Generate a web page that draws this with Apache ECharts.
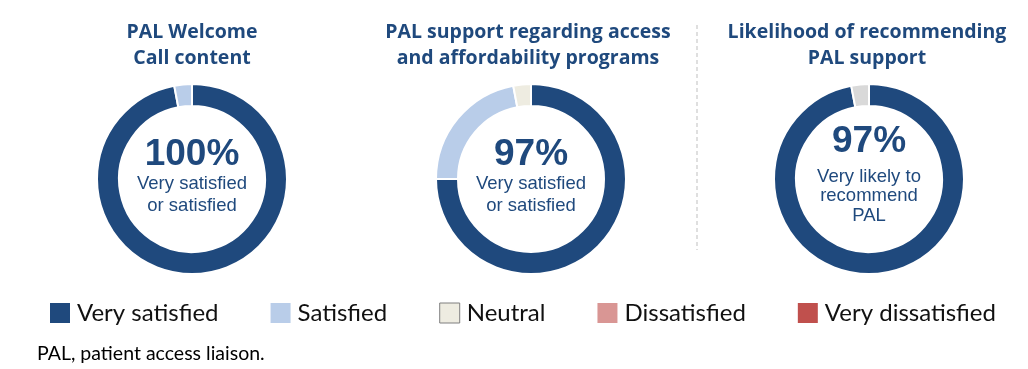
<!DOCTYPE html>
<html>
<head>
<meta charset="utf-8">
<script src="https://cdn.jsdelivr.net/npm/echarts@6/dist/echarts.min.js"></script>
<style>html,body{margin:0;padding:0;background:#fff}#c{width:1028px;height:369px}</style>
</head>
<body>
<div id="c"></div>
<script>
// ---- data ----
const legendNames = ['Very satisfied', 'Satisfied', 'Neutral', 'Dissatisfied', 'Very dissatisfied'];
const legendColors = ['#1f497d', '#b9cde9', '#eeece1', '#d99694', '#c0504d'];
const chartTitles = ['PAL Welcome\nCall content', 'PAL support regarding access\nand affordability programs', 'Likelihood of recommending\nPAL support'];
const chartHeadline = ['100%', '97%', '97%'];
const chartSubtext = ['Very satisfied\nor satisfied', 'Very satisfied\nor satisfied', 'Very likely to\nrecommend\nPAL'];
const chart1Names = ['Very satisfied', 'Satisfied'];
const chart1Values = [97, 3];
const chart2Names = ['Very satisfied', 'Satisfied', 'Neutral'];
const chart2Values = [75, 22, 3];
const chart3Names = ['Very likely', 'Not very likely'];
const chart3Values = [97, 3];
const chart3Colors = ['#1f497d', '#d9d9d9'];
const footnote = 'PAL, patient access liaison.';

// ---- build ----
const colorOf = n => legendColors[legendNames.indexOf(n)];
const centers = [192, 531, 869];
const cy = 179;
function mkData(names, values, colors) {
  return names.map((n, i) => ({ name: n, value: values[i], itemStyle: { color: colors ? colors[i] : colorOf(n) } }));
}
const datasets = [
  mkData(chart1Names, chart1Values),
  mkData(chart2Names, chart2Values),
  mkData(chart3Names, chart3Values, chart3Colors)
];
const series = datasets.map((d, i) => ({
  type: 'pie',
  center: [centers[i], cy],
  radius: [73, 95],
  startAngle: 90,
  clockwise: true,
  silent: true,
  label: { show: false },
  labelLine: { show: false },
  itemStyle: { borderColor: '#fff', borderWidth: 2 },
  data: d
}));
// hidden series for legend-only categories
series.push({
  type: 'pie', radius: [0, 0], center: [-100, -100], silent: true,
  label: { show: false },
  data: legendNames.map(n => ({ name: n, value: 1, itemStyle: { color: colorOf(n) } }))
});

const legendFont = 'Lato, "Open Sans", sans-serif';
const titleFont = '"Open Sans", Lato, sans-serif';
const graphics = [];
chartTitles.forEach((t, i) => {
  graphics.push({ type: 'text', x: [192, 528, 867][i], y: 45, style: {
    text: t, fill: '#1f497d', font: 'bold 19.5px ' + titleFont, align: 'center', verticalAlign: 'middle', lineHeight: 26 } });
});
const headY = [155, 155, 142];
const subY = [195, 195, 196];
chartHeadline.forEach((t, i) => {
  graphics.push({ type: 'text', x: centers[i], y: headY[i], style: {
    text: t, fill: '#1f497d', font: 'bold 37px "Liberation Sans", Arial, sans-serif', align: 'center', verticalAlign: 'middle' } });
  graphics.push({ type: 'text', x: centers[i], y: subY[i], style: {
    text: chartSubtext[i], fill: '#1f497d', font: '18.5px "Liberation Sans", Arial, sans-serif', align: 'center', verticalAlign: 'middle', lineHeight: i === 2 ? 19.5 : 21.5 } });
});
graphics.push({ type: 'line', shape: { x1: 697, y1: 25, x2: 697, y2: 250 }, style: { stroke: '#bfbfbf', lineWidth: 1, lineDash: [4, 3] } });
graphics.push({ type: 'text', x: 37, y: 354, style: { text: footnote, fill: '#000', font: '19.5px ' + legendFont, verticalAlign: 'middle' } });

const chart = echarts.init(document.getElementById('c'), null, { renderer: 'canvas' });
chart.setOption({
  animation: false,
  legend: {
    left: 50, top: 301, padding: 0,
    itemWidth: 20, itemHeight: 20, itemGap: 52,
    icon: 'rect',
    selectedMode: false,
    textStyle: { fontFamily: legendFont, fontSize: 24, color: '#111', padding: [0, 0, 0, 2] },
    data: legendNames.map(n => n === 'Neutral'
      ? { name: n, itemStyle: { color: colorOf(n), borderColor: '#7f7f7f', borderWidth: 1 } }
      : { name: n, itemStyle: { color: colorOf(n), borderWidth: 0 } })
  },
  series: series,
  graphic: graphics
});
</script>
</body>
</html>
